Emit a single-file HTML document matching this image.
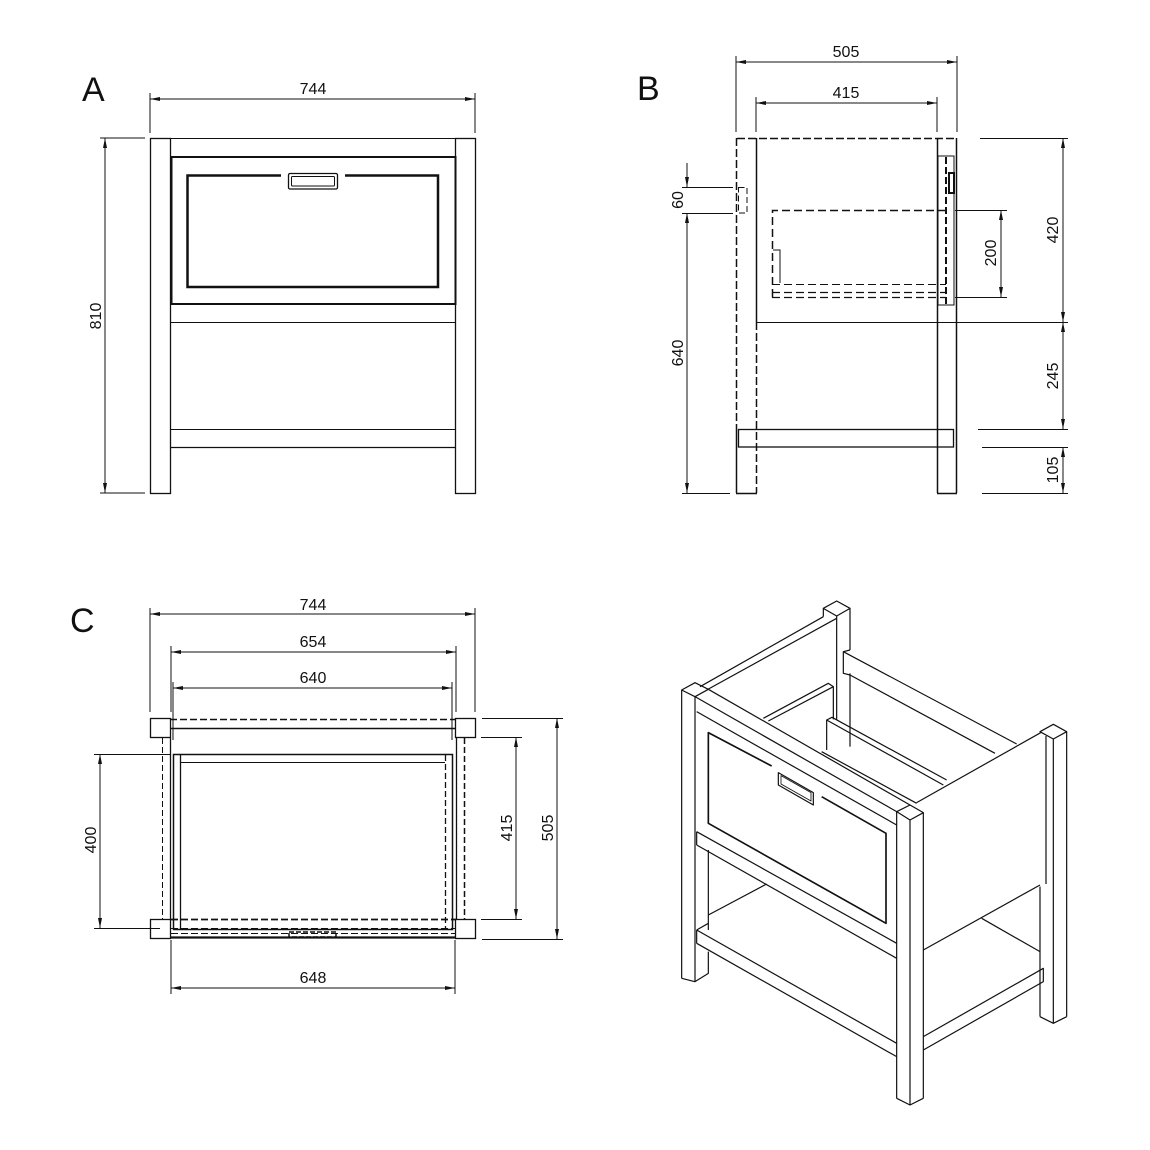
<!DOCTYPE html>
<html><head><meta charset="utf-8"><style>
html,body{margin:0;padding:0;background:#fff;}
svg{display:block;}
text{font-family:"Liberation Sans",sans-serif;fill:#111;}
</style></head><body>
<svg width="1150" height="1150" viewBox="0 0 1150 1150" xmlns="http://www.w3.org/2000/svg">
<defs>
<marker id="ar" viewBox="0 0 10 4" refX="10" refY="2" markerWidth="10" markerHeight="4" orient="auto-start-reverse" markerUnits="userSpaceOnUse"><path d="M0,0 L10,2 L0,4z" fill="#111"/></marker>
</defs>
<g stroke="#111" fill="none" stroke-width="1">
<!-- ===== VIEW A ===== -->
<line x1="150" y1="93" x2="150" y2="133"/><line x1="475" y1="93" x2="475" y2="133"/>
<line x1="150" y1="99" x2="475" y2="99" marker-start="url(#ar)" marker-end="url(#ar)"/>
<line x1="100" y1="138" x2="145" y2="138"/><line x1="100" y1="493" x2="145" y2="493"/>
<line x1="105" y1="138" x2="105" y2="493" marker-start="url(#ar)" marker-end="url(#ar)"/>
<rect x="150.5" y="138.5" width="20" height="355" stroke-width="1.3"/>
<rect x="455.5" y="138.5" width="20" height="355" stroke-width="1.3"/>
<line x1="170" y1="138.5" x2="456" y2="138.5"/>
<rect x="171.5" y="157" width="284" height="147" stroke-width="2"/>
<path d="M281,175.5 H187.5 V287 H438 V175.5 H345" stroke-width="2.5"/>
<rect x="288.5" y="173.5" width="49" height="15.5" rx="1.5" stroke-width="1.3"/>
<rect x="291.5" y="176.5" width="43" height="9.5" rx="1" stroke-width="1"/>
<line x1="170" y1="322.5" x2="456" y2="322.5"/>
<line x1="170" y1="429.5" x2="456" y2="429.5"/>
<line x1="170" y1="447.5" x2="456" y2="447.5" stroke-width="1.3"/>

<!-- ===== VIEW B ===== -->
<line x1="736" y1="56" x2="736" y2="132"/><line x1="957" y1="56" x2="957" y2="132"/>
<line x1="736" y1="62" x2="957" y2="62" marker-start="url(#ar)" marker-end="url(#ar)"/>
<line x1="756" y1="97" x2="756" y2="132"/><line x1="937" y1="97" x2="937" y2="132"/>
<line x1="756" y1="103" x2="937" y2="103" marker-start="url(#ar)" marker-end="url(#ar)"/>
<line x1="736.5" y1="138" x2="736.5" y2="430" stroke-width="1.5" stroke-dasharray="8,3"/>
<line x1="736.5" y1="430" x2="736.5" y2="493" stroke-width="1.5"/>
<line x1="756.5" y1="138" x2="756.5" y2="322" stroke-width="1.5"/>
<line x1="756.5" y1="322" x2="756.5" y2="493" stroke-width="1.5" stroke-dasharray="8,3"/>
<line x1="736" y1="493.5" x2="757" y2="493.5" stroke-width="1.5"/>
<line x1="937.5" y1="138" x2="937.5" y2="493" stroke-width="1.5"/>
<line x1="956.5" y1="138" x2="956.5" y2="493" stroke-width="1.5"/>
<line x1="937" y1="493.5" x2="957" y2="493.5" stroke-width="1.5"/>
<line x1="737" y1="138.5" x2="957" y2="138.5" stroke-width="1.5" stroke-dasharray="8,3"/>
<line x1="756" y1="322.5" x2="1068" y2="322.5"/>
<rect x="738.5" y="429.5" width="215" height="17.5" stroke-width="1.3"/>
<path d="M946,210.5 H772.5 V297" stroke-width="1.5" stroke-dasharray="8,4"/>
<line x1="772" y1="284.5" x2="946" y2="284.5" stroke-dasharray="8,4"/>
<line x1="772" y1="292.5" x2="946" y2="292.5" stroke-width="1.3" stroke-dasharray="8,4"/>
<line x1="772" y1="297.5" x2="946" y2="297.5" stroke-width="1.3" stroke-dasharray="8,4"/>
<path d="M773,250 H780 V283" />
<rect x="938" y="156" width="16" height="149"/>
<line x1="946" y1="157" x2="946" y2="305" stroke-width="2" stroke-dasharray="7,3"/>
<rect x="949" y="173" width="5" height="20" stroke-width="2"/>
<rect x="738.5" y="187.5" width="8.5" height="25.5" stroke-dasharray="6,3"/>
<line x1="682" y1="187.5" x2="733" y2="187.5"/><line x1="682" y1="213.5" x2="733" y2="213.5"/>
<line x1="687" y1="163" x2="687" y2="187" marker-end="url(#ar)"/>
<line x1="687" y1="213" x2="687" y2="493" marker-start="url(#ar)" marker-end="url(#ar)"/>
<line x1="682" y1="493.5" x2="730" y2="493.5"/>
<line x1="955" y1="210.5" x2="1007" y2="210.5"/><line x1="955" y1="297.5" x2="1007" y2="297.5"/>
<line x1="1001" y1="210" x2="1001" y2="297" marker-start="url(#ar)" marker-end="url(#ar)"/>
<line x1="980" y1="138.5" x2="1068" y2="138.5"/>
<line x1="1063" y1="138" x2="1063" y2="322" marker-start="url(#ar)" marker-end="url(#ar)"/>
<line x1="1063" y1="322" x2="1063" y2="429" marker-start="url(#ar)" marker-end="url(#ar)"/>
<line x1="978" y1="429.5" x2="1068" y2="429.5"/>
<line x1="982" y1="447.5" x2="1068" y2="447.5"/>
<line x1="982" y1="493.5" x2="1068" y2="493.5"/>
<line x1="1063" y1="447" x2="1063" y2="493" marker-start="url(#ar)" marker-end="url(#ar)"/>

<!-- ===== VIEW C ===== -->
<line x1="150" y1="608" x2="150" y2="712"/><line x1="475" y1="608" x2="475" y2="712"/>
<line x1="150" y1="614" x2="475" y2="614" marker-start="url(#ar)" marker-end="url(#ar)"/>
<line x1="171" y1="646" x2="171" y2="712"/><line x1="456" y1="646" x2="456" y2="712"/>
<line x1="171" y1="652" x2="456" y2="652" marker-start="url(#ar)" marker-end="url(#ar)"/>
<line x1="173" y1="682" x2="173" y2="740"/><line x1="452" y1="682" x2="452" y2="740"/>
<line x1="173" y1="688" x2="452" y2="688" marker-start="url(#ar)" marker-end="url(#ar)"/>
<rect x="150.5" y="718.5" width="20" height="19" stroke-width="1.3"/>
<rect x="455.5" y="718.5" width="20" height="19" stroke-width="1.3"/>
<rect x="150.5" y="919.5" width="20" height="19" stroke-width="1.3"/>
<rect x="455.5" y="919.5" width="20" height="19" stroke-width="1.3"/>
<line x1="170" y1="719.5" x2="456" y2="719.5" stroke-width="1.5" stroke-dasharray="7,3"/>
<line x1="170" y1="728.5" x2="456" y2="728.5" stroke-width="1.5"/>
<line x1="162.5" y1="738" x2="162.5" y2="919" stroke-dasharray="6,3"/>
<line x1="170.5" y1="738" x2="170.5" y2="919" stroke-width="1.3"/>
<line x1="456.5" y1="738" x2="456.5" y2="919" stroke-width="1.3"/>
<line x1="464.5" y1="738" x2="464.5" y2="919" stroke-width="1.5" stroke-dasharray="6,3"/>
<rect x="173.5" y="754.5" width="279" height="175" stroke-width="1.5"/>
<line x1="180.5" y1="755" x2="180.5" y2="929" stroke-width="1.3"/>
<line x1="445.5" y1="755" x2="445.5" y2="929" stroke-width="1.3" stroke-dasharray="6,3"/>
<line x1="181" y1="762.5" x2="445" y2="762.5"/>
<line x1="171" y1="919.5" x2="456" y2="919.5" stroke-width="1.8" stroke-dasharray="7,3"/>
<line x1="171" y1="928.5" x2="456" y2="928.5" stroke-dasharray="7,3"/>
<line x1="171" y1="937.5" x2="456" y2="937.5" stroke-width="2.2"/>
<line x1="171" y1="933.5" x2="456" y2="933.5" stroke-dasharray="7,3"/>
<rect x="289" y="932" width="47" height="5" stroke-width="1.5" stroke-dasharray="5,2"/>
<line x1="94" y1="754.5" x2="170" y2="754.5"/><line x1="94" y1="928.5" x2="160" y2="928.5"/>
<line x1="100" y1="754" x2="100" y2="928" marker-start="url(#ar)" marker-end="url(#ar)"/>
<line x1="481" y1="737.5" x2="522" y2="737.5"/><line x1="481" y1="919.5" x2="522" y2="919.5"/>
<line x1="516" y1="737" x2="516" y2="919" marker-start="url(#ar)" marker-end="url(#ar)"/>
<line x1="482" y1="718.5" x2="563" y2="718.5"/><line x1="482" y1="939.5" x2="563" y2="939.5"/>
<line x1="557" y1="718" x2="557" y2="939" marker-start="url(#ar)" marker-end="url(#ar)"/>
<line x1="171" y1="940" x2="171" y2="994"/><line x1="455" y1="940" x2="455" y2="994"/>
<line x1="171" y1="988" x2="455" y2="988" marker-start="url(#ar)" marker-end="url(#ar)"/>
</g>

<!-- ===== ISO VIEW ===== -->
<g transform="translate(670,590) scale(0.33333)" stroke="#111" fill="none" stroke-width="3.6" stroke-linejoin="round">
<path d="M460,80 L460,55 L500,33 L540,55 L500,78 L460,55"/>
<line x1="500" y1="78" x2="500" y2="390"/>
<line x1="540" y1="55" x2="540" y2="180"/>
<line x1="540" y1="250" x2="540" y2="470"/>
<line x1="90" y1="290" x2="460" y2="80"/>
<line x1="110" y1="300" x2="500" y2="85"/>
<path d="M540,180 L520,185 L520,250 L540,255"/>
<line x1="520" y1="185" x2="1040" y2="462"/>
<line x1="540" y1="255" x2="975" y2="490"/>
<path d="M280,385 L475,280 L490,290 L490,388"/>
<line x1="295" y1="393" x2="490" y2="290"/>
<path d="M470,480 L470,390 L486,382 L830,570"/>
<line x1="470" y1="390" x2="820" y2="585"/>
<line x1="455" y1="485" x2="740" y2="640"/>
<!-- front-left post -->
<path d="M35,300 L75,278 L115,298 L75,320 Z"/>
<line x1="35" y1="300" x2="35" y2="1165"/>
<line x1="75" y1="320" x2="75" y2="1175"/>
<path d="M35,1165 L75,1175 L115,1150 L115,1085"/>
<line x1="115" y1="780" x2="115" y2="1020"/>
<!-- front frame -->
<line x1="75" y1="320" x2="680" y2="665"/>
<line x1="115" y1="298" x2="720" y2="645"/>
<line x1="80" y1="365" x2="680" y2="705"/>
<line x1="80" y1="725" x2="680" y2="1060"/>
<line x1="80" y1="765" x2="680" y2="1105"/>
<line x1="80" y1="725" x2="80" y2="765"/>
<path d="M305,528 L115,428 L115,700 L648,1000 L648,730 L455,620" stroke-width="5"/>
<path d="M325,548 L430,608 L430,645 L325,585 Z"/>
<path d="M333,557 L423,608 L423,633 L333,582 Z" stroke-width="2.5"/>
<path d="M115,975 L290,882"/>
<path d="M80,1020 L680,1360 M80,1060 L680,1400 M80,1020 L80,1060 M80,1020 L115,1000"/>
<path d="M760,1340 L1120,1135 L1120,1175 L760,1380"/>
<line x1="935" y1="985" x2="1110" y2="1085"/>
<line x1="740" y1="638" x2="1112" y2="428"/>
<line x1="760" y1="1080" x2="1110" y2="885"/>
<line x1="1128" y1="438" x2="1128" y2="882"/>
<path d="M1110,425 L1150,403 L1190,425 L1150,447 Z"/>
<line x1="1150" y1="447" x2="1150" y2="1300"/>
<line x1="1190" y1="425" x2="1190" y2="1280"/>
<line x1="1110" y1="890" x2="1110" y2="1280"/>
<path d="M1110,1280 L1150,1300 L1190,1280"/>
<path d="M680,665 L720,645 L760,668 L720,690 Z" fill="#fff"/>
<line x1="680" y1="665" x2="680" y2="1525"/>
<line x1="720" y1="690" x2="720" y2="1545"/>
<line x1="760" y1="668" x2="760" y2="1525"/>
<path d="M680,1525 L720,1545 L760,1525"/>
</g>

<text x="82" y="101" font-size="34">A</text>
<text x="637" y="100" font-size="34">B</text>
<text x="70" y="632" font-size="34">C</text>
<g font-size="16" text-anchor="middle">
<text x="313" y="94">744</text>
<text x="846" y="57">505</text>
<text x="846" y="98">415</text>
<text x="313" y="610">744</text>
<text x="313" y="647">654</text>
<text x="313" y="683">640</text>
<text x="313" y="983">648</text>
<text transform="translate(101,316) rotate(-90)">810</text>
<text transform="translate(683,200) rotate(-90)">60</text>
<text transform="translate(683,353) rotate(-90)">640</text>
<text transform="translate(996,253) rotate(-90)">200</text>
<text transform="translate(1058,230) rotate(-90)">420</text>
<text transform="translate(1058,376) rotate(-90)">245</text>
<text transform="translate(1058,470) rotate(-90)">105</text>
<text transform="translate(96,840) rotate(-90)">400</text>
<text transform="translate(512,828) rotate(-90)">415</text>
<text transform="translate(553,828) rotate(-90)">505</text>
</g>
</svg>
</body></html>
